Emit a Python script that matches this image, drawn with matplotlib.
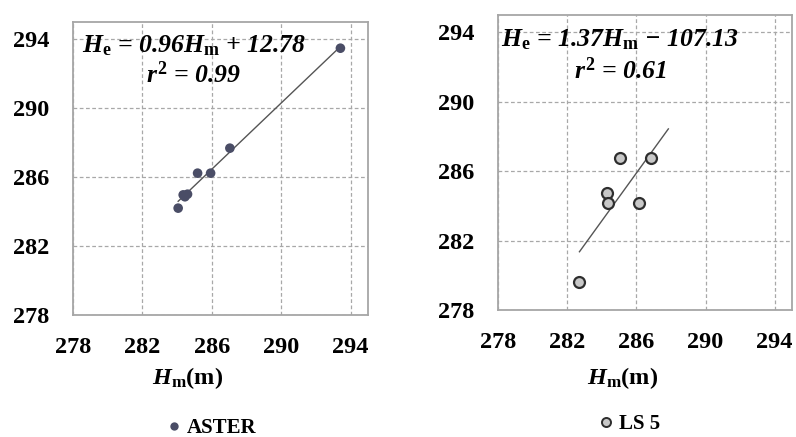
import matplotlib
matplotlib.use("Agg")
import matplotlib.pyplot as plt
import numpy as np
from matplotlib.lines import Line2D

# ---- data ----
aster_hm = [293.41, 287.04, 285.18, 285.93, 284.35, 284.60, 284.45, 284.06]
aster_he = [293.48, 287.68, 286.23, 286.23, 284.97, 285.01, 284.86, 284.20]
ls5_hm = [282.71, 285.06, 286.85, 284.29, 284.35, 286.17]
ls5_he = [279.63, 286.75, 286.75, 284.77, 284.19, 284.19]
aster_trend_x = [284.06, 293.41]
ls5_trend_x = [282.71, 287.85]
ticks = [278, 282, 286, 290, 294]
aster_eq = r'$H_{\mathrm{e}}$ = 0.96$H_{\mathrm{m}}$ + 12.78'
aster_r2 = r'$r^{2}$ = 0.99'
ls5_eq = r'$H_{\mathrm{e}}$ = 1.37$H_{\mathrm{m}}$ ' + '\u2212' + ' 107.13'
ls5_r2 = r'$r^{2}$ = 0.61'
xlabel = r'$H_{\mathrm{m}}$(m)'

plt.rcParams['font.family'] = ['Liberation Serif', 'DejaVu Serif']
plt.rcParams['font.weight'] = 'bold'
plt.rcParams['mathtext.fontset'] = 'custom'
plt.rcParams['mathtext.it'] = 'Liberation Serif:bold:italic'
plt.rcParams['mathtext.rm'] = 'Liberation Serif:bold'
plt.rcParams['mathtext.bf'] = 'Liberation Serif:bold'

W, H = 796, 437
fig = plt.figure(figsize=(W / 100, H / 100), dpi=100)

def px_axes(l, t, r, b):
    return fig.add_axes([l / W, 1 - b / H, (r - l) / W, (b - t) / H])

ax1 = px_axes(73, 22, 368, 315)
ax2 = px_axes(498, 15, 792, 310)

grid_c = '#a8a8a8'
frame_c = '#a6a6a6'
for ax in (ax1, ax2):
    ax.set_xlim(278, 295)
    ax.set_ylim(278, 295)
    ax.set_xticks(ticks)
    ax.set_yticks(ticks)
    ax.tick_params(length=0, labelsize=17.5)
    ax.tick_params(axis='x', pad=16)
    ax.tick_params(axis='y', pad=17)
    for lab in ax.get_xticklabels() + ax.get_yticklabels():
        lab.set_fontweight('bold')
    ax.grid(True, color=grid_c, linestyle=(0, (3, 2)), linewidth=0.9)
    for s in ax.spines.values():
        s.set_color(frame_c)
        s.set_linewidth(1.3)
    ax.set_axisbelow(True)

# left panel
c1 = np.polyfit(aster_hm, aster_he, 1)
tx = np.array(aster_trend_x)
ax1.plot(tx, np.polyval(c1, tx), color='#555555', lw=1.0, zorder=2)
ax1.scatter(aster_hm, aster_he, s=48, color='#4a4d66', edgecolors='none', zorder=3)
eqkw = dict(fontsize=18.5, fontstyle='italic', fontweight='bold', ha='center', va='center')
ax1.text(284.95, 293.6, aster_eq, **eqkw)
ax1.text(284.95, 291.95, aster_r2, **eqkw)

# right panel
c2 = np.polyfit(ls5_hm, ls5_he, 1)
tx2 = np.array(ls5_trend_x)
ax2.plot(tx2, np.polyval(c2, tx2), color='#555555', lw=1.0, zorder=2)
ax2.scatter(ls5_hm, ls5_he, s=62, color='#c8c8c8', edgecolors='#2e2e2e', linewidths=1.6, zorder=3)
ax2.text(285.05, 293.55, ls5_eq, **eqkw)
ax2.text(285.05, 291.8, ls5_r2, **eqkw)

# x labels
fig.text(188 / W, 1 - 378 / H, xlabel, fontsize=17.5, fontweight='bold', ha='center', va='center')
fig.text(623 / W, 1 - 378 / H, xlabel, fontsize=17.5, fontweight='bold', ha='center', va='center')

# legends
h1 = Line2D([], [], marker='o', ls='none', markersize=6, color='#4a4d66', markeredgecolor='none')
h2 = Line2D([], [], marker='o', ls='none', markersize=6.5, markerfacecolor='#c8c8c8',
            markeredgecolor='#2e2e2e', markeredgewidth=1.4)
legkw = dict(frameon=False, loc='center', handlelength=0.6, handletextpad=0.3,
             prop={'family': 'Liberation Serif', 'weight': 'bold', 'size': 15})
fig.legend(handles=[h1], labels=['ASTER'], bbox_to_anchor=(212 / W, 1 - 428 / H), **legkw)
fig.legend(handles=[h2], labels=['LS 5'], bbox_to_anchor=(630 / W, 1 - 424 / H), **legkw)

fig.savefig('out.png', dpi=100)
